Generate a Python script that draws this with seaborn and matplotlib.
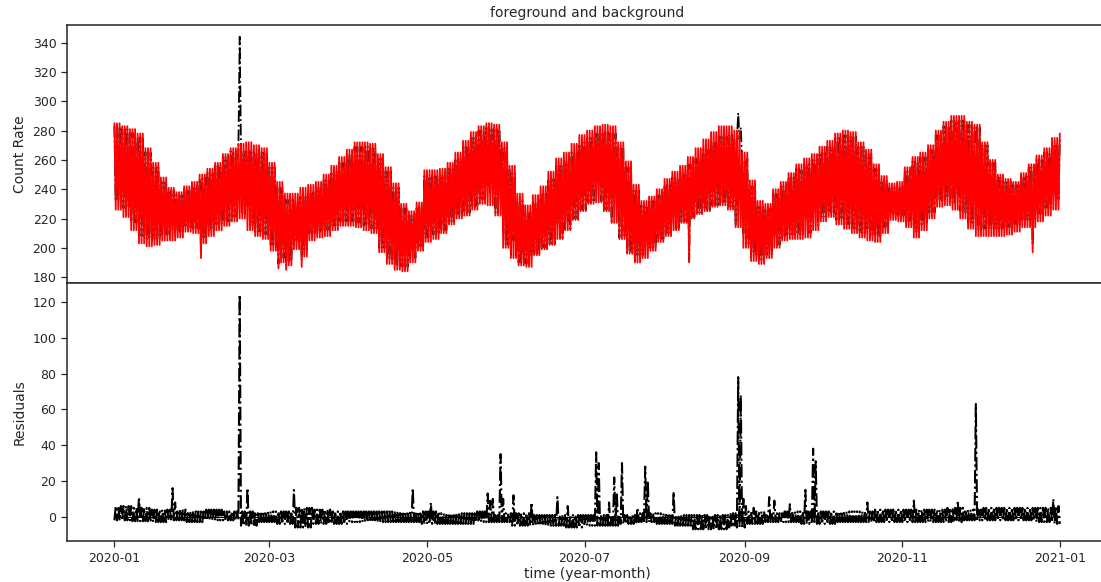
import numpy as np
import pandas as pd
import matplotlib
matplotlib.use("Agg")
import matplotlib.pyplot as plt
import matplotlib.dates as mdates
from matplotlib.ticker import MultipleLocator
import seaborn as sns

# ---------------------------------------------------------------------------
# Data: half-day sampled count rates for 2020 (daily maxima / minima per
# 3-day block), residual band per week and isolated residual spikes.
# ---------------------------------------------------------------------------
start_date = "2020-01-01"
n_days = 366
block_days = 3

# background model, daily peak level per 3-day block (days 0, 3, ..., 366)
bkg_high = [
    285, 283, 281, 278, 268, 258, 248, 241, 238, 242,
    245, 250, 254, 258, 264, 268, 271, 272, 270, 268,
    258, 245, 237, 237, 241, 243, 245, 250, 256, 262,
    267, 272, 272, 271, 264, 255, 244, 230, 225, 231,
    253, 253, 254, 258, 265, 273, 279, 283, 285, 284,
    272, 256, 237, 229, 236, 242, 252, 261, 265, 271,
    277, 280, 283, 284, 283, 272, 259, 243, 232, 235,
    240, 247, 252, 256, 262, 268, 274, 279, 283, 283,
    280, 265, 246, 232, 230, 240, 245, 251, 257, 261,
    264, 269, 273, 278, 280, 279, 272, 267, 257, 249,
    244, 245, 255, 262, 265, 270, 280, 286, 290, 290,
    286, 284, 272, 260, 250, 247, 245, 251, 257, 263,
    268, 275, 278,
]
# background model, daily trough level per 3-day block
bkg_low = [
    226, 221, 212, 203, 201, 202, 205, 205, 207, 211,
    210, 203, 208, 212, 215, 218, 220, 212, 208, 206,
    198, 190, 188, 199, 194, 205, 207, 208, 212, 215,
    215, 214, 212, 210, 197, 189, 185, 184, 190, 198,
    204, 206, 210, 216, 220, 222, 226, 230, 229, 222,
    200, 193, 188, 187, 195, 199, 202, 206, 212, 219,
    225, 230, 231, 225, 217, 206, 196, 190, 193, 198,
    204, 208, 212, 217, 220, 223, 225, 228, 229, 226,
    214, 200, 191, 189, 193, 200, 205, 206, 206, 207,
    212, 218, 221, 216, 213, 210, 207, 205, 204, 210,
    219, 218, 214, 207, 212, 220, 228, 229, 226, 220,
    213, 208, 208, 208, 208, 209, 211, 214, 214, 218,
    222, 226, 229,
]
# single deep troughs of the background model
dip_days = [33, 63, 66, 72, 222, 355]
dip_values = [193, 186, 185, 187, 190, 197]

# residual band per week (upper / lower level)
resid_high = [
    6, 5, 4, 4, 3, 4, 3, 3, 3, 3, 5, 4, 3, 3, 3, 3, 3, 3, 2, 2,
    3, 2, 2, 1, 1, 1, 1, 1, 1, 2, 2, 1, 1, 1, 2, 3, 2, 3, 3, 3,
    3, 3, 4, 4, 4, 4, 5, 4, 5, 5, 5, 5, 6,
]
resid_low = [
    -2, -2.5, -3, -2, -3, -2, -2, -5, -3, -4, -6, -4, -4, -3, -3, -3, -3, -4, -4, -4,
    -3, -3, -5, -5, -5, -6, -5, -5, -4, -3, -4, -5, -7, -7, -6, -4, -3, -3, -4, -4,
    -3, -3, -3, -3, -3, -3, -3, -2, -2, -2, -2, -3, -4,
]
# isolated residual excursions (day of year, value)
spike_days = [
    9, 22, 23, 48, 51, 69, 115, 122, 144, 145,
    146, 149, 150, 154, 161, 171, 175, 186, 187, 191,
    193, 194, 196, 202, 205, 206, 216, 241, 242, 243,
    244, 247, 253, 255, 261, 267, 270, 271, 291, 309,
    326, 333, 363,
]
spike_values = [
    11, 16, 8, 124, 16, 15, 16, 8, 13, 9,
    10, 35, 10, 12, 8, 11, 6, 36, 30, 8,
    22, 13, 30, 5, 28, 20, 14, 78, 68, 10,
    6, 5, 11, 9, 7, 15, 38, 31, 8, 9,
    9, 63, 10,
]

# ---------------------------------------------------------------------------
# Assemble half-day series (even steps = daily maximum, odd = daily minimum)
# ---------------------------------------------------------------------------
steps = np.arange(0, 2 * n_days + 1)
t_days = steps / 2.0
times = pd.Timestamp(start_date) + pd.to_timedelta(t_days, unit="D")
is_peak = steps % 2 == 0

blk = (t_days // block_days).astype(int)
background = np.where(is_peak, np.asarray(bkg_high, float)[blk],
                      np.asarray(bkg_low, float)[blk])
for d, v in zip(dip_days, dip_values):
    background[int(d) * 2 + 1] = v

wk = (t_days // 7).astype(int)
residual = np.where(is_peak, np.asarray(resid_low, float)[wk],
                    np.asarray(resid_high, float)[wk])
for d, v in zip(spike_days, spike_values):
    residual[int(d) * 2 + 1] = v

foreground = background + residual

# ---------------------------------------------------------------------------
# Figure
# ---------------------------------------------------------------------------
sns.set_style("ticks")
plt.rcParams["font.family"] = ["DejaVu Sans"]

fig, (ax1, ax2) = plt.subplots(2, 1, sharex=True, figsize=(11.01, 5.82), dpi=100,
                               gridspec_kw=dict(hspace=0))
fig.subplots_adjust(left=0.061, right=1.0055, top=0.957, bottom=0.0704)

sns.lineplot(x=times, y=foreground, ax=ax1, color="black", linestyle="-.",
             linewidth=1.3, estimator=None, sort=False)
sns.lineplot(x=times, y=background, ax=ax1, color="red", linestyle="-",
             linewidth=1.3, estimator=None, sort=False)

sns.lineplot(x=times, y=residual, ax=ax2, color="black", linestyle="-.",
             linewidth=1.5, estimator=None, sort=False)
ax2.hlines(0, times[0], times[-1], color="black", linewidth=0.8, zorder=3)

ax1.set_title("foreground and background", fontsize=10)
ax1.set_ylabel("Count Rate", fontsize=10)
ax2.set_ylabel("Residuals", fontsize=10)
ax2.set_xlabel("time (year-month)", fontsize=10, labelpad=2)

ax1.yaxis.set_major_locator(MultipleLocator(20))
ax2.yaxis.set_major_locator(MultipleLocator(20))
ax2.xaxis.set_major_locator(mdates.MonthLocator(bymonth=[1, 3, 5, 7, 9, 11]))
ax2.xaxis.set_major_formatter(mdates.DateFormatter("%Y-%m"))

for ax in (ax1, ax2):
    ax.tick_params(axis="both", labelsize=9, length=4.2, width=0.9)
    for s in ax.spines.values():
        s.set_linewidth(1.1)
ax1.tick_params(axis="x", length=0)

fig.savefig("out.png", dpi=100)
